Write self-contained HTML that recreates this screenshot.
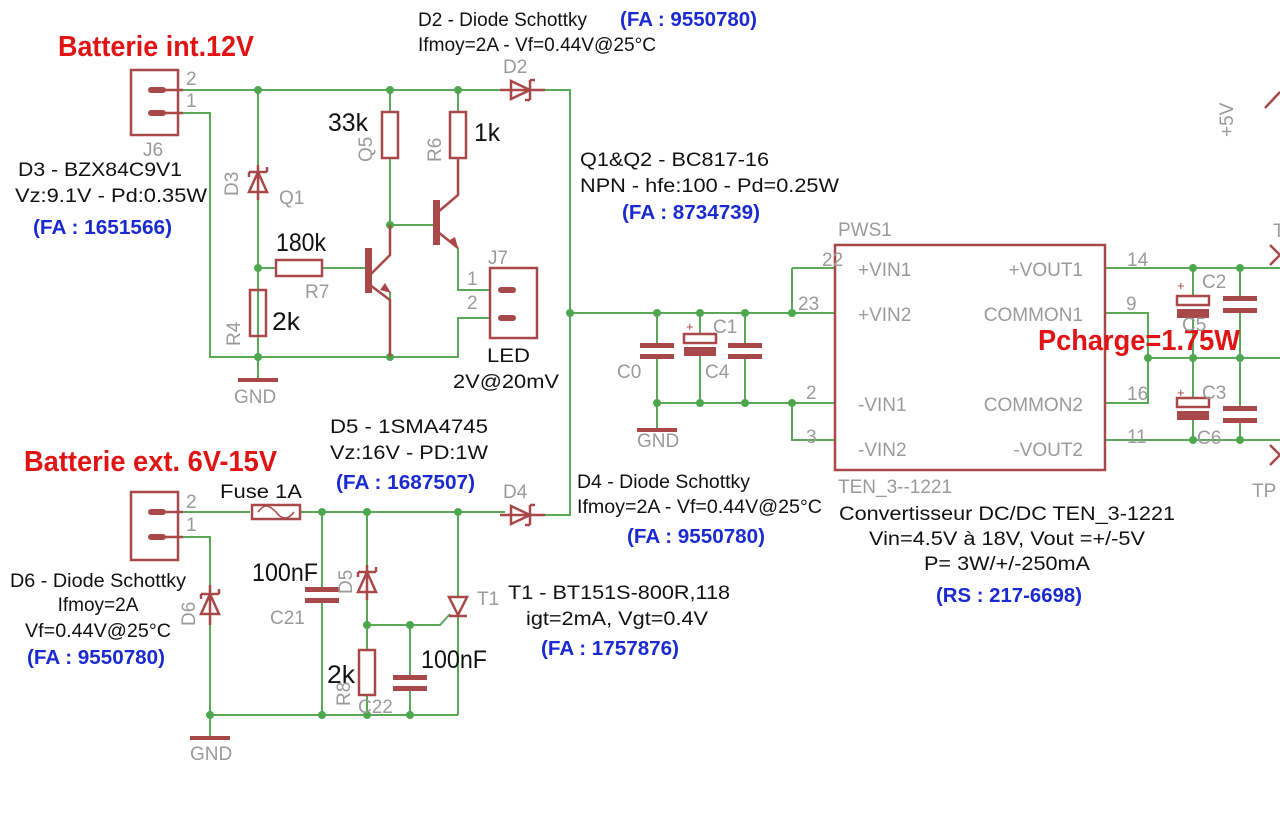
<!DOCTYPE html>
<html><head><meta charset="utf-8"><style>
html,body{margin:0;padding:0;background:#fff;}
svg{display:block;font-family:"Liberation Sans",sans-serif;}
.w{stroke:#5aa85a;stroke-width:2;fill:none;}
.c{stroke:#a84848;stroke-width:2.5;fill:none;}
.cf{fill:#a84848;stroke:none;}
.j{fill:#4da84d;}
.g{fill:#9a9a9a;font-size:19px;}
.k{fill:#111;font-size:19px;}
.v{fill:#111;font-size:25px;}
.b{fill:#1a2ad0;font-size:20px;font-weight:bold;}
.r{fill:#e01414;font-size:29px;font-weight:bold;}
</style></head><body>
<svg width="1280" height="835" viewBox="0 0 1280 835" xmlns="http://www.w3.org/2000/svg">
<path class="w" d="M183 90H505 M540 90H570V515H540 M183 113H210V357H458V318H490 M258 90V357 M390 90V112 M458 90V112 M390 158V225 M390 292V357 M458 248V290H490"/>
<path class="w" d="M258 268H276 M322 268H367 M390 225H435 M570 313H835 M792 268H835 M792 268V313 M657 313V346 M700 313V334 M745 313V346 M657 356V430 M700 356V403 M745 356V403 M657 403H835 M792 403V440H835 M258 357V380"/>
<path class="w" d="M1105 268H1280 M1105 313H1148V403H1105 M1148 358H1280 M1105 440H1280 M1193 268V298 M1193 318V358 M1240 268V298 M1240 312V358 M1193 358V402 M1193 420V440 M1240 358V408 M1240 422V440"/>
<path class="w" d="M183 512H250 M300 512H505 M183 537H210V738 M210 715H458 M322 512V590 M322 600V715 M367 512V570 M367 595V650 M367 695V715 M367 625H440L450 614 M410 625V677 M410 687V715 M458 512V597 M458 617V715"/>
<g class="j">
<circle cx="258" cy="90" r="4"/><circle cx="390" cy="90" r="4"/><circle cx="458" cy="90" r="4"/>
<circle cx="258" cy="268" r="4"/><circle cx="390" cy="225" r="4"/><circle cx="258" cy="357" r="4"/><circle cx="390" cy="357" r="4"/>
<circle cx="570" cy="313" r="4"/><circle cx="657" cy="313" r="4"/><circle cx="700" cy="313" r="4"/><circle cx="745" cy="313" r="4"/><circle cx="792" cy="313" r="4"/>
<circle cx="657" cy="403" r="4"/><circle cx="700" cy="403" r="4"/><circle cx="745" cy="403" r="4"/><circle cx="792" cy="403" r="4"/>
<circle cx="1193" cy="268" r="4"/><circle cx="1240" cy="268" r="4"/><circle cx="1148" cy="358" r="4"/><circle cx="1193" cy="358" r="4"/><circle cx="1240" cy="358" r="4"/><circle cx="1193" cy="440" r="4"/><circle cx="1240" cy="440" r="4"/>
<circle cx="322" cy="512" r="4"/><circle cx="367" cy="512" r="4"/><circle cx="458" cy="512" r="4"/>
<circle cx="367" cy="625" r="4"/><circle cx="410" cy="625" r="4"/>
<circle cx="210" cy="715" r="4"/><circle cx="322" cy="715" r="4"/><circle cx="367" cy="715" r="4"/><circle cx="410" cy="715" r="4"/>
</g>
<g class="c">
<rect x="131" y="70" width="47" height="65"/>
<path d="M150 90H183 M150 113H183" />
<rect x="490" y="268" width="47" height="70"/>
<rect x="131" y="492" width="47" height="68"/>
<path d="M150 512H183 M150 537H183"/>
<path d="M500 90H545 M511 81V99L530 90Z M530 80V100 M530 80H535 M530 100H525"/>
<path d="M500 515H545 M511 506V524L530 515Z M530 505V525 M530 505H535 M530 525H525"/>
<path d="M258 165V200 M249 192H267L258 172Z M249 172H267 M249 172V177 M267 172V167"/>
<path d="M210 585V625 M201 614H219L210 594Z M201 594H219 M201 594V599 M219 594V589"/>
<path d="M367 565V600 M358 592H376L367 572Z M358 572H376 M358 572V577 M376 572V567"/>
<path d="M449 597H467L458 615Z M449 616H467"/>
<rect x="382" y="112" width="16" height="46"/>
<rect x="450" y="112" width="16" height="46"/>
<rect x="276" y="260" width="46" height="16"/>
<rect x="250" y="290" width="16" height="46"/>
<rect x="359" y="650" width="16" height="45"/>
<rect x="252" y="505" width="48" height="14"/>
<path d="M258 512C264 504 268 504 276 512C282 520 288 520 294 512" stroke-width="1.5"/>
<path d="M370 275L390 255V225 M370 285L390 300V357"/>
<path d="M438 212L458 195V158 M438 232L458 248"/>
<rect x="835" y="245" width="270" height="225"/>
</g>
<g class="cf">
<rect x="365" y="248" width="7" height="45"/>
<rect x="433" y="200" width="7" height="45"/>
<polygon points="380,290 391,293 385,283"/>
<polygon points="448,241 458,248 455,237"/>
<rect x="148" y="87" width="18" height="6" rx="3"/><rect x="148" y="110" width="18" height="6" rx="3"/>
<rect x="498" y="287" width="18" height="6" rx="3"/><rect x="498" y="315" width="18" height="6" rx="3"/>
<rect x="148" y="509" width="18" height="6" rx="3"/><rect x="148" y="534" width="18" height="6" rx="3"/>
<rect x="640" y="343" width="34" height="5"/><rect x="640" y="354" width="34" height="5"/>
<rect x="728" y="343" width="34" height="5"/><rect x="728" y="354" width="34" height="5"/>
<rect x="684" y="347" width="32" height="9"/>
<rect x="305" y="587" width="34" height="5"/><rect x="305" y="598" width="34" height="5"/>
<rect x="393" y="675" width="34" height="5"/><rect x="393" y="686" width="34" height="5"/>
<rect x="1223" y="296" width="34" height="5"/><rect x="1223" y="308" width="34" height="5"/>
<rect x="1223" y="406" width="34" height="5"/><rect x="1223" y="418" width="34" height="5"/>
<rect x="1177" y="309" width="32" height="9"/>
<rect x="1177" y="411" width="32" height="9"/>
<rect x="238" y="378" width="40" height="4"/>
<rect x="637" y="428" width="40" height="4"/>
<rect x="190" y="736" width="40" height="4"/>
</g>
<g class="c" stroke-width="2">
<rect x="684" y="334" width="32" height="9" fill="#fff"/>
<rect x="1177" y="296" width="32" height="9" fill="#fff"/>
<rect x="1177" y="398" width="32" height="9" fill="#fff"/>
<path d="M1280 255L1270 245 M1280 255L1270 265 M1280 455L1270 445 M1280 455L1270 465 M1265 108L1280 92"/>
</g>
<text class="r" x="58" y="56" textLength="196" lengthAdjust="spacingAndGlyphs">Batterie int.12V</text>
<text class="r" x="24" y="471" textLength="253" lengthAdjust="spacingAndGlyphs">Batterie ext. 6V-15V</text>
<text class="r" x="1038" y="350" textLength="202" lengthAdjust="spacingAndGlyphs">Pcharge=1.75W</text>

<text class="k" x="418" y="26" textLength="169" lengthAdjust="spacingAndGlyphs">D2 - Diode Schottky</text>
<text class="b" x="620" y="26" textLength="137" lengthAdjust="spacingAndGlyphs">(FA : 9550780)</text>
<text class="k" x="418" y="51" textLength="238" lengthAdjust="spacingAndGlyphs">Ifmoy=2A - Vf=0.44V@25°C</text>
<text class="k" x="18" y="176" textLength="164" lengthAdjust="spacingAndGlyphs">D3 - BZX84C9V1</text>
<text class="k" x="15" y="202" textLength="192" lengthAdjust="spacingAndGlyphs">Vz:9.1V - Pd:0.35W</text>
<text class="b" x="33" y="234" textLength="139" lengthAdjust="spacingAndGlyphs">(FA : 1651566)</text>
<text class="k" x="580" y="166" textLength="189" lengthAdjust="spacingAndGlyphs">Q1&amp;Q2 - BC817-16</text>
<text class="k" x="580" y="192" textLength="259" lengthAdjust="spacingAndGlyphs">NPN - hfe:100 - Pd=0.25W</text>
<text class="b" x="622" y="219" textLength="138" lengthAdjust="spacingAndGlyphs">(FA : 8734739)</text>
<text class="v" x="328" y="131" textLength="40" lengthAdjust="spacingAndGlyphs">33k</text>
<text class="v" x="474" y="141" textLength="26" lengthAdjust="spacingAndGlyphs">1k</text>
<text class="v" x="276" y="251" textLength="50" lengthAdjust="spacingAndGlyphs">180k</text>
<text class="v" x="272" y="330" textLength="28" lengthAdjust="spacingAndGlyphs">2k</text>
<text class="k" x="487" y="362" textLength="43" lengthAdjust="spacingAndGlyphs">LED</text>
<text class="k" x="453" y="388" textLength="106" lengthAdjust="spacingAndGlyphs">2V@20mV</text>
<text class="k" x="330" y="433" textLength="158" lengthAdjust="spacingAndGlyphs">D5 - 1SMA4745</text>
<text class="k" x="330" y="459" textLength="158" lengthAdjust="spacingAndGlyphs">Vz:16V - PD:1W</text>
<text class="b" x="336" y="489" textLength="139" lengthAdjust="spacingAndGlyphs">(FA : 1687507)</text>
<text class="k" x="220" y="498" textLength="82" lengthAdjust="spacingAndGlyphs">Fuse 1A</text>
<text class="k" x="577" y="488" textLength="173" lengthAdjust="spacingAndGlyphs">D4 - Diode Schottky</text>
<text class="k" x="577" y="513" textLength="245" lengthAdjust="spacingAndGlyphs">Ifmoy=2A - Vf=0.44V@25°C</text>
<text class="b" x="627" y="543" textLength="138" lengthAdjust="spacingAndGlyphs">(FA : 9550780)</text>
<text class="k" x="10" y="587" textLength="176" lengthAdjust="spacingAndGlyphs">D6 - Diode Schottky</text>
<text class="k" x="98" y="611" text-anchor="middle">Ifmoy=2A</text>
<text class="k" x="98" y="637" text-anchor="middle" textLength="146" lengthAdjust="spacingAndGlyphs">Vf=0.44V@25°C</text>
<text class="b" x="96" y="664" text-anchor="middle" textLength="138" lengthAdjust="spacingAndGlyphs">(FA : 9550780)</text>
<text class="v" x="252" y="581" textLength="66" lengthAdjust="spacingAndGlyphs">100nF</text>
<text class="v" x="421" y="668" textLength="66" lengthAdjust="spacingAndGlyphs">100nF</text>
<text class="v" x="327" y="683" textLength="28" lengthAdjust="spacingAndGlyphs">2k</text>
<text class="k" x="508" y="599" textLength="222" lengthAdjust="spacingAndGlyphs">T1 - BT151S-800R,118</text>
<text class="k" x="617" y="625" text-anchor="middle" textLength="182" lengthAdjust="spacingAndGlyphs">igt=2mA, Vgt=0.4V</text>
<text class="b" x="610" y="655" text-anchor="middle" textLength="138" lengthAdjust="spacingAndGlyphs">(FA : 1757876)</text>
<text class="k" x="1007" y="520" text-anchor="middle" textLength="336" lengthAdjust="spacingAndGlyphs">Convertisseur DC/DC TEN_3-1221</text>
<text class="k" x="1007" y="545" text-anchor="middle" textLength="276" lengthAdjust="spacingAndGlyphs">Vin=4.5V à 18V, Vout =+/-5V</text>
<text class="k" x="1007" y="570" text-anchor="middle" textLength="166" lengthAdjust="spacingAndGlyphs">P= 3W/+/-250mA</text>
<text class="b" x="1009" y="602" text-anchor="middle" textLength="146" lengthAdjust="spacingAndGlyphs">(RS : 217-6698)</text>

<text class="g" x="503" y="73">D2</text>
<text class="g" x="503" y="498">D4</text>
<text class="g" x="186" y="85" font-size="15">2</text><text class="g" x="186" y="107" font-size="15">1</text>
<text class="g" x="186" y="508" font-size="15">2</text><text class="g" x="186" y="531" font-size="15">1</text>
<text class="g" x="467" y="285" font-size="15">1</text><text class="g" x="467" y="309" font-size="15">2</text>
<text class="g" x="488" y="264">J7</text>
<text class="g" x="143" y="156">J6</text>
<text class="g" x="279" y="204">Q1</text>
<text class="g" x="305" y="298">R7</text>
<text class="g" x="234" y="403">GND</text>
<text class="g" x="637" y="447">GND</text>
<text class="g" x="190" y="760">GND</text>
<text class="g" x="270" y="624">C21</text>
<text class="g" x="358" y="713">C22</text>
<text class="g" x="477" y="605">T1</text>
<text class="g" x="617" y="378">C0</text>
<text class="g" x="705" y="378">C4</text>
<text class="g" x="713" y="333">C1</text>
<text class="g" x="1202" y="288">C2</text>
<text class="g" x="1202" y="399">C3</text>
<text class="g" x="1182" y="331">C5</text>
<text class="g" x="1197" y="444">C6</text>
<text class="g" x="1273" y="237">T</text>
<text class="g" x="1252" y="497">TP</text>
<text class="g" x="238" y="196" transform="rotate(-90 238 196)">D3</text>
<text class="g" x="240" y="346" transform="rotate(-90 240 346)">R4</text>
<text class="g" x="372" y="162" transform="rotate(-90 372 162)">Q5</text>
<text class="g" x="441" y="162" transform="rotate(-90 441 162)">R6</text>
<text class="g" x="195" y="626" transform="rotate(-90 195 626)">D6</text>
<text class="g" x="352" y="594" transform="rotate(-90 352 594)">D5</text>
<text class="g" x="350" y="706" transform="rotate(-90 350 706)">R8</text>
<text class="g" x="1233" y="137" transform="rotate(-90 1233 137)">+5V</text>
<text class="g" x="838" y="236" font-size="20">PWS1</text>
<text class="g" x="838" y="493" font-size="20">TEN_3--1221</text>
<text class="g" x="858" y="276" font-size="17">+VIN1</text>
<text class="g" x="858" y="321" font-size="17">+VIN2</text>
<text class="g" x="858" y="411" font-size="17">-VIN1</text>
<text class="g" x="858" y="456" font-size="17">-VIN2</text>
<text class="g" x="1083" y="276" font-size="17" text-anchor="end">+VOUT1</text>
<text class="g" x="1083" y="321" font-size="17" text-anchor="end">COMMON1</text>
<text class="g" x="1083" y="411" font-size="17" text-anchor="end">COMMON2</text>
<text class="g" x="1083" y="456" font-size="17" text-anchor="end">-VOUT2</text>
<text class="g" x="822" y="266" font-size="16">22</text>
<text class="g" x="798" y="310" font-size="16">23</text>
<text class="g" x="806" y="399" font-size="16">2</text>
<text class="g" x="806" y="443" font-size="16">3</text>
<text class="g" x="1127" y="266" font-size="16">14</text>
<text class="g" x="1126" y="310" font-size="16">9</text>
<text class="g" x="1127" y="400" font-size="16">16</text>
<text class="g" x="1127" y="443" font-size="16">11</text>
<text x="1177" y="290" font-size="13" fill="#a84848">+</text>
<text x="1177" y="397" font-size="13" fill="#a84848">+</text>
<text x="686" y="331" font-size="13" fill="#a84848">+</text>
</svg>
</body></html>
